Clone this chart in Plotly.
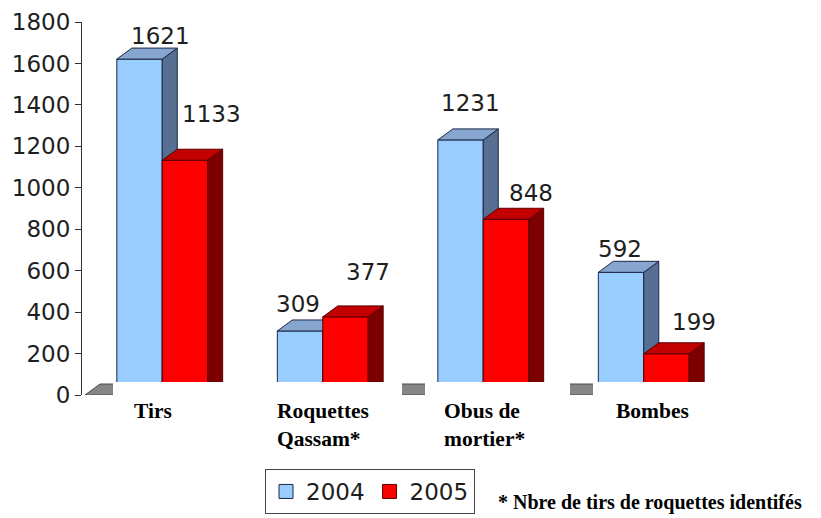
import plotly.graph_objects as go

# ---------------- data ----------------
categories = ["Tirs", "Roquettes\nQassam*", "Obus de\nmortier*", "Bombes"]
series_names = ["2004", "2005"]
values_2004 = [1621, 309, 1231, 592]
values_2005 = [1133, 377, 848, 199]
y_ticks = [0, 200, 400, 600, 800, 1000, 1200, 1400, 1600, 1800]
footnote = "* Nbre de tirs de roquettes identifés"

# ---------------- layout / style ----------------
W, H = 821, 518
L, R, T, B = 82, 76, 22, 123
PW, PH = W - L - R, H - T - B
CAT_PX = 160.5
XMIN = -0.5
XMAX = XMIN + PW / CAT_PX
YMAX = 1800
BAR_W = 0.283
DX = 15 / CAT_PX
DY = 11 * YMAX / PH

NUM_FONT = "DejaVu Sans"
CAT_FONT = "Liberation Serif"
TXT = "#1e1e1e"

styles = {
    "2004": dict(front="#99CCFF", side="#566f93", top="#86a6cf", line="#1b2743", offset=-BAR_W),
    "2005": dict(front="#FF0000", side="#7d0000", top="#c20000", line="#5a0000", offset=0.0),
}
# label offsets (pixels) for value labels, per series
label_xshift = {"2004": [21, -2, 10, -1], "2005": [27, 23, 25, 28]}
label_yshift = {"2004": [23, 27, 37, 23], "2005": [46, 45, 26, 32]}
cat_xshift = [-30, -48, -41, -30]


def px_x(px):
    return (px - L) / PW


def px_y(py):
    return 1 - (py - T) / PH


fig = go.Figure()

# floor
fx0, fx1 = XMIN + 3 / CAT_PX, 3.5
fig.add_trace(go.Scatter(
    x=[fx0, fx1, fx1 + DX, fx0 + DX, fx0], y=[0, 0, DY, DY, 0],
    mode="lines", fill="toself", fillcolor="#868686",
    line=dict(color="#4a4a4a", width=1), hoverinfo="skip", showlegend=False))


def add_bars(name, vals):
    st = styles[name]
    front_x, front_y, side_x, side_y, top_x, top_y = [], [], [], [], [], []
    for i, v in enumerate(vals):
        x0 = i + st["offset"]
        x1 = x0 + BAR_W
        front_x += [x0, x0, x1, x1, x0, None]
        front_y += [0, v, v, 0, 0, None]
        side_x += [x1, x1 + DX, x1 + DX, x1, x1, None]
        side_y += [0, DY, v + DY, v, 0, None]
        top_x += [x0, x0 + DX, x1 + DX, x1, x0, None]
        top_y += [v, v + DY, v + DY, v, v, None]
    for xs, ys, col in ((front_x, front_y, st["front"]),
                        (side_x, side_y, st["side"]),
                        (top_x, top_y, st["top"])):
        fig.add_trace(go.Scatter(
            x=xs, y=ys, mode="lines", fill="toself", fillcolor=col,
            line=dict(color=st["line"], width=1), hoverinfo="skip",
            showlegend=False))
    for i, v in enumerate(vals):
        x0 = i + st["offset"]
        fig.add_annotation(
            x=x0 + BAR_W / 2, y=v, text=str(v), showarrow=False,
            xanchor="center", yanchor="middle",
            xshift=label_xshift[name][i], yshift=label_yshift[name][i],
            font=dict(family=NUM_FONT, size=23, color=TXT))


add_bars("2004", values_2004)
add_bars("2005", values_2005)

# legend entries
for name in series_names:
    st = styles[name]
    fig.add_trace(go.Scatter(
        x=[None], y=[None], mode="markers", name=name,
        marker=dict(symbol="square", size=14, color=st["front"],
                    line=dict(color=st["line"], width=1))))

# white label boxes over the floor
for a, b in [(113, 402), (425, 570), (593, 740)]:
    fig.add_shape(type="rect", xref="paper", yref="paper",
                  x0=px_x(a), x1=px_x(b), y0=px_y(457), y1=px_y(382),
                  fillcolor="white", line=dict(width=0), layer="above")

# category labels
for i, cat in enumerate(categories):
    fig.add_annotation(
        x=i, xref="x", y=px_y(397), yref="paper",
        text="<br>".join("<b>" + ln + "</b>" for ln in cat.split("\n")),
        showarrow=False, align="left",
        xanchor="left", yanchor="top", xshift=cat_xshift[i],
        font=dict(family=CAT_FONT, size=21.5, color="black"))

# footnote
fig.add_annotation(
    x=px_x(496), y=px_y(502), xref="paper", yref="paper",
    text="<b>" + footnote + "</b>", showarrow=False,
    xanchor="left", yanchor="middle",
    font=dict(family=CAT_FONT, size=20, color="black"))

fig.update_layout(
    width=W, height=H,
    margin=dict(l=L, r=R, t=T, b=B, pad=0, autoexpand=False),
    paper_bgcolor="white", plot_bgcolor="white",
    showlegend=True,
    legend=dict(orientation="h", x=px_x(265), y=px_y(469),
                xanchor="left", yanchor="top",
                bordercolor="#444", borderwidth=1, bgcolor="white",
                font=dict(family=NUM_FONT, size=23, color=TXT),
                itemwidth=30),
    xaxis=dict(range=[XMIN, XMAX], showticklabels=False, showline=False,
               zeroline=False, showgrid=False, ticks="", fixedrange=True,
               automargin=False),
    yaxis=dict(range=[0, YMAX], tickvals=y_ticks, showline=True,
               linecolor="#333", linewidth=1, ticks="outside", ticklen=6,
               tickcolor="#333", showgrid=False, zeroline=False,
               automargin=False, fixedrange=True,
               tickfont=dict(family=NUM_FONT, size=23, color=TXT)),
)

fig.write_html(
    "out.html",
    config={"displayModeBar": False, "staticPlot": True},
    post_script="document.body.style.margin='0';document.body.style.overflow='hidden';",
)
